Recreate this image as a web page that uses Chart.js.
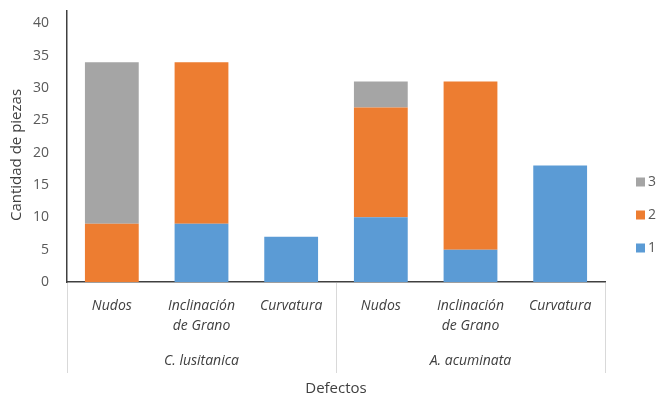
<!DOCTYPE html>
<html lang="es">
<head>
<meta charset="UTF-8">
<title>Defectos</title>
<script src="https://cdn.jsdelivr.net/npm/chart.js"></script>
<style>
  html, body { margin: 0; padding: 0; background: #fff; }
  #wrap { width: 657px; height: 396px; }
</style>
</head>
<body>
<div id="wrap"><canvas id="chart" width="657" height="396"></canvas></div>
<script>
  // data
  var categories = [['Nudos'], ['Inclinación', 'de Grano'], ['Curvatura'], ['Nudos'], ['Inclinación', 'de Grano'], ['Curvatura']];
  var groups = ['C. lusitanica', 'A. acuminata'];
  var groupSize = 3;
  var serie1 = [0, 9, 7, 10, 5, 18];
  var serie2 = [9, 25, 0, 17, 26, 0];
  var serie3 = [25, 0, 0, 4, 0, 0];
  var yTicks = [0, 5, 10, 15, 20, 25, 30, 35, 40];
  var yTitle = 'Cantidad de piezas';

  var font = '"Open Sans", "Noto Sans", sans-serif';

  // group labels and separators under the x axis, y title
  var groupPlugin = {
    id: 'groups',
    afterDraw: function (chart) {
      var ctx = chart.ctx;
      var x = chart.scales.x;
      var half = (x.getPixelForValue(1) - x.getPixelForValue(0)) / 2;
      var top = chart.chartArea.bottom;
      ctx.save();
      ctx.strokeStyle = '#d9d9d9';
      ctx.lineWidth = 1;
      for (var g = 0; g <= groups.length; g++) {
        var px = Math.round(x.getPixelForValue(g * groupSize) - half) + 0.5;
        ctx.beginPath();
        ctx.moveTo(px, top + 1);
        ctx.lineTo(px, top + 91);
        ctx.stroke();
      }
      ctx.fillStyle = '#404040';
      ctx.font = 'italic 14px ' + font;
      ctx.textAlign = 'center';
      ctx.textBaseline = 'middle';
      for (var i = 0; i < groups.length; i++) {
        var a = x.getPixelForValue(i * groupSize);
        var b = x.getPixelForValue(i * groupSize + groupSize - 1);
        ctx.fillText(groups[i], (a + b) / 2, top + 79);
      }
      // y axis title, a bit lower than the plot centre like the original
      ctx.font = '15px ' + font;
      ctx.translate(17, 155);
      ctx.rotate(-Math.PI / 2);
      ctx.fillText(yTitle, 0, 0);
      ctx.restore();
    }
  };

  // legend on the right, 3 on top
  var legendPlugin = {
    id: 'sideLegend',
    afterDraw: function (chart) {
      var ctx = chart.ctx;
      var sets = chart.data.datasets;
      ctx.save();
      ctx.font = '14px ' + font;
      ctx.textBaseline = 'middle';
      ctx.textAlign = 'left';
      for (var i = 0; i < sets.length; i++) {
        var cy = 248 - i * 33;
        ctx.fillStyle = sets[i].backgroundColor;
        ctx.fillRect(636, cy - 4.5, 9, 9);
        ctx.fillStyle = '#595959';
        ctx.fillText(sets[i].label, 648, cy);
      }
      ctx.restore();
    }
  };

  var ctx = document.getElementById('chart').getContext('2d');
  var chart = new Chart(ctx, {
    type: 'bar',
    data: {
      labels: categories,
      datasets: [
        { label: '1', data: serie1, backgroundColor: '#5b9bd5' },
        { label: '2', data: serie2, backgroundColor: '#ed7d31' },
        { label: '3', data: serie3, backgroundColor: '#a5a5a5' }
      ]
    },
    options: {
      responsive: false,
      animation: false,
      layout: { padding: { top: 0, left: 0, right: 52, bottom: 0 } },
      datasets: { bar: { barPercentage: 0.6, categoryPercentage: 1 } },
      plugins: {
        tooltip: { enabled: false },
        legend: { display: false }
      },
      scales: {
        x: {
          stacked: true,
          grid: { display: false, drawTicks: false },
          border: { display: true, color: '#404040', width: 1.5 },
          ticks: {
            color: '#404040', padding: 14, maxRotation: 0, autoSkip: false,
            font: { family: font, size: 14, style: 'italic', lineHeight: 1.45 }
          },
          title: {
            display: true, text: 'Defectos', color: '#404040',
            font: { family: font, size: 15 }, padding: { top: 0, bottom: -2 }
          },
          afterFit: function (s) { s.height = 114; }
        },
        y: {
          stacked: true,
          min: 0, max: 42,
          // tick marks hidden, their length only pushes the labels left
          grid: { display: false, drawTicks: true, tickLength: 16 },
          border: { display: true, color: '#404040', width: 1.5 },
          ticks: {
            stepSize: 5, color: '#595959', padding: 2,
            font: { family: font, size: 14 }
          },
          afterBuildTicks: function (s) {
            s.ticks = yTicks.map(function (v) { return { value: v }; });
          },
          afterFit: function (s) { s.width = 67; }
        }
      }
    },
    plugins: [groupPlugin, legendPlugin]
  });
</script>
</body>
</html>
